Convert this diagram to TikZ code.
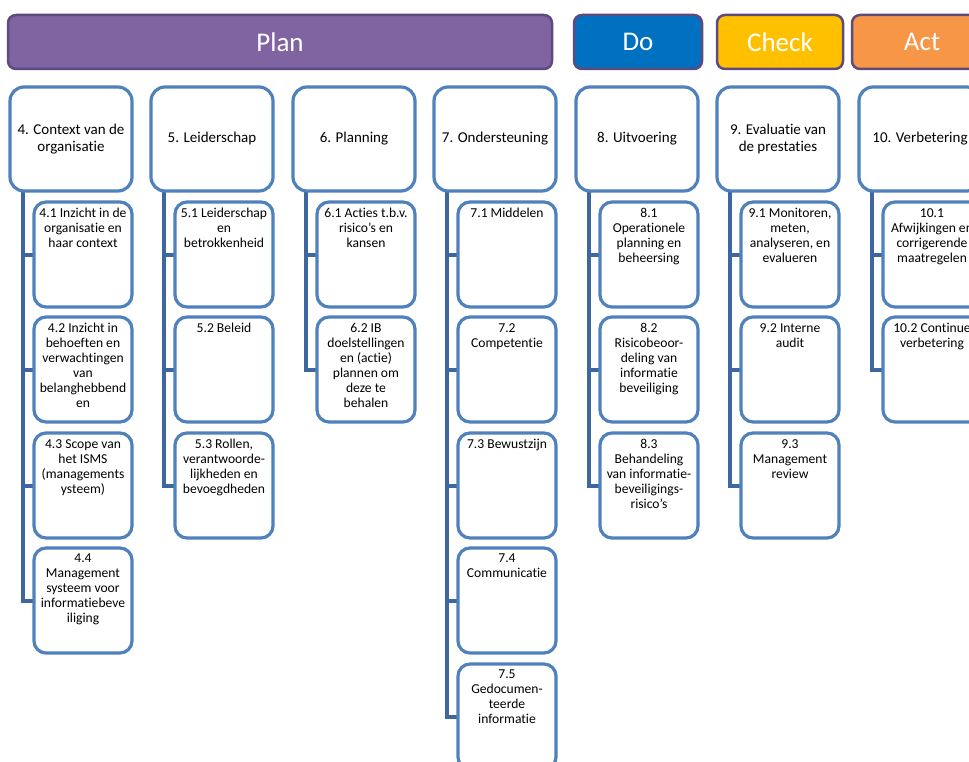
\documentclass[tikz,border=0pt]{standalone}
\usepackage{fontspec}
\setmainfont{Carlito}[Ligatures=NoCommon]
\usetikzlibrary{backgrounds}
\definecolor{plancol}{HTML}{8064A2}
\definecolor{docol}{HTML}{0070C0}
\definecolor{checkcol}{HTML}{FFC000}
\definecolor{actcol}{HTML}{F79646}
\definecolor{barline}{HTML}{5E4A7E}
\definecolor{boxline}{HTML}{4F81BD}
\definecolor{connline}{HTML}{3E66A0}
\begin{document}
\begin{tikzpicture}[x=1pt,y=-1pt,
 bar/.style={draw=barline, line width=2.5pt, rounded corners=8pt, anchor=north west, text=white, font=\fontsize{27}{30}\selectfont, inner sep=0pt, outer sep=0pt, minimum height=54pt},
 hdr/.style={draw=boxline, fill=white, line width=3.2pt, rounded corners=14pt, anchor=north west, minimum width=122pt, minimum height=104pt, inner sep=0pt, outer sep=0pt, align=center, font=\fontsize{15}{17}\selectfont},
 sub/.style={draw=boxline, fill=white, line width=3.2pt, rounded corners=12pt, anchor=north west, minimum width=98pt, minimum height=105pt, inner sep=0pt, outer sep=0pt},
 subtxt/.style={anchor=north, align=center, inner sep=0pt, yshift=-6pt, font=\fontsize{13.6}{15}\selectfont},
 conn/.style={draw=connline, line width=4pt}]
\useasboundingbox (0,0) rectangle (969,762);
\clip (0,0) rectangle (969,762);

% PDCA bars
\node[bar, fill=plancol, minimum width=544pt] (plan) at (8,15) {Plan};
\node[bar, fill=docol, minimum width=128pt] (do) at (574,15) {Do};
\node[bar, fill=checkcol, minimum width=126pt] (check) at (717,15) {Check};
\node[bar, fill=actcol, minimum width=140pt] (act) at (852,15) {Act};

% headers
\node[hdr] (h4) at (10,87) {4. Context van de\\organisatie};
\node[hdr] (h5) at (151,87) {5. Leiderschap};
\node[hdr] (h6) at (293,87) {6. Planning};
\node[hdr] (h7) at (434,87) {7. Ondersteuning};
\node[hdr] (h8) at (576,87) {8. Uitvoering};
\node[hdr] (h9) at (717,87) {9. Evaluatie van\\de prestaties};
\node[hdr] (h10) at (859,87) {10. Verbetering};

% sub boxes
\node[sub] (s41) at (34,202) {};
\node[sub] (s42) at (34,317) {};
\node[sub] (s43) at (34,433) {};
\node[sub] (s44) at (34,548) {};
\node[sub] (s51) at (175,202) {};
\node[sub] (s52) at (175,317) {};
\node[sub] (s53) at (175,433) {};
\node[sub] (s61) at (317,202) {};
\node[sub] (s62) at (317,317) {};
\node[sub] (s71) at (458,202) {};
\node[sub] (s72) at (458,317) {};
\node[sub] (s73) at (458,433) {};
\node[sub] (s74) at (458,548) {};
\node[sub] (s75) at (458,664) {};
\node[sub] (s81) at (600,202) {};
\node[sub] (s82) at (600,317) {};
\node[sub] (s83) at (600,433) {};
\node[sub] (s91) at (741,202) {};
\node[sub] (s92) at (741,317) {};
\node[sub] (s93) at (741,433) {};
\node[sub] (s101) at (883,202) {};
\node[sub] (s102) at (883,317) {};

% connectors behind the boxes
\begin{scope}[on background layer]
\fill[white] (0,0) rectangle (969,762);
\foreach \h/\s in {h4/s41,h4/s42,h4/s43,h4/s44,h5/s51,h5/s52,h5/s53,h6/s61,h6/s62,h7/s71,h7/s72,h7/s73,h7/s74,h7/s75,h8/s81,h8/s82,h8/s83,h9/s91,h9/s92,h9/s93,h10/s101,h10/s102}
  \draw[conn] ([xshift=13pt]\h.south west) |- (\s.west);
\end{scope}

% sub texts
\node[subtxt] (t41) at (s41.north) {4.1 Inzicht in de\\organisatie en\\haar context};
\node[subtxt] (t42) at (s42.north) {4.2 Inzicht in\\behoeften en\\verwachtingen\\van\\belanghebbend\\en};
\node[subtxt] (t43) at (s43.north) {4.3 Scope van\\het ISMS\\(managements\\ysteem)};
\node[subtxt] (t44) at (s44.north) {4.4\\Management\\systeem voor\\informatiebeve\\iliging};
\node[subtxt] (t51) at (s51.north) {5.1 Leiderschap\\en\\betrokkenheid};
\node[subtxt] (t52) at (s52.north) {5.2 Beleid};
\node[subtxt] (t53) at (s53.north) {5.3 Rollen,\\verantwoorde-\\lijkheden en\\bevoegdheden};
\node[subtxt] (t61) at (s61.north) {6.1 Acties t.b.v.\\risico’s en\\kansen};
\node[subtxt] (t62) at (s62.north) {6.2 IB\\doelstellingen\\en (actie)\\plannen om\\deze te\\behalen};
\node[subtxt] (t71) at (s71.north) {7.1 Middelen};
\node[subtxt] (t72) at (s72.north) {7.2\\Competentie};
\node[subtxt] (t73) at (s73.north) {7.3 Bewustzijn};
\node[subtxt] (t74) at (s74.north) {7.4\\Communicatie};
\node[subtxt] (t75) at (s75.north) {7.5\\Gedocumen-\\teerde\\informatie};
\node[subtxt] (t81) at (s81.north) {8.1\\Operationele\\planning en\\beheersing};
\node[subtxt] (t82) at (s82.north) {8.2\\Risicobeoor-\\deling van\\informatie\\beveiliging};
\node[subtxt] (t83) at (s83.north) {8.3\\Behandeling\\van informatie-\\beveiligings-\\risico’s};
\node[subtxt] (t91) at (s91.north) {9.1 Monitoren,\\meten,\\analyseren, en\\evalueren};
\node[subtxt] (t92) at (s92.north) {9.2 Interne\\audit};
\node[subtxt] (t93) at (s93.north) {9.3\\Management\\review};
\node[subtxt] (t101) at (s101.north) {10.1\\Afwijkingen en\\corrigerende\\maatregelen};
\node[subtxt] (t102) at (s102.north) {10.2 Continue\\verbetering};
\end{tikzpicture}
\end{document}
